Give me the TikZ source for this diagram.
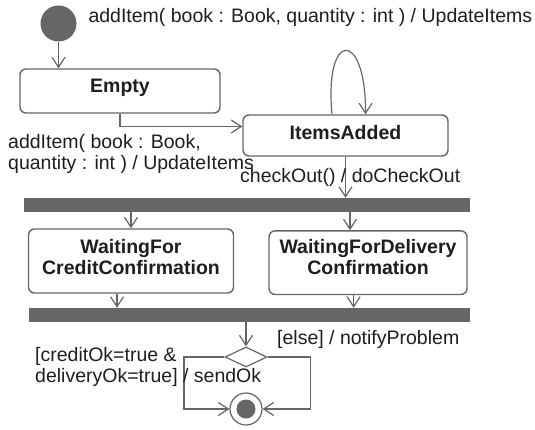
\documentclass[tikz,border=0pt]{standalone}
\usepackage{fontspec}
\setmainfont{Liberation Sans}
\usetikzlibrary{arrows.meta,shapes.geometric}
\definecolor{lc}{HTML}{666666}
\definecolor{tc}{HTML}{1E1E1E}
\begin{document}
\begin{tikzpicture}[x=1pt,y=-1pt,
  every node/.style={text=tc,font=\fontsize{19.5}{21.5}\selectfont},
  statebox/.style={draw=lc,line width=1.4pt,rounded corners=6pt,fill=white,inner sep=0pt,
     font=\fontsize{19.5}{21.5}\selectfont\bfseries,align=center},
  barbox/.style={fill=lc,draw=none,inner sep=0pt},
  conn/.style={draw=lc,line width=1.2pt,-{Straight Barb[length=10pt,width=13pt,line width=1.2pt]}},
  plain/.style={draw=lc,line width=1.2pt},
  lbl/.style={inner sep=0pt,align=left}]
\useasboundingbox (0,0) rectangle (535,430);
% states
\node[circle,fill=lc,minimum size=36pt,inner sep=0pt] (init) at (58.5,23.5) {};
\node[statebox,minimum width=200pt,minimum height=44pt,text depth=10pt] (empty) at (120,91) {Empty};
\node[statebox,minimum width=205pt,minimum height=41pt,text depth=6pt] (items) at (345.5,135.5) {ItemsAdded};
\node[barbox,minimum width=446pt,minimum height=14pt] (fork) at (247,205) {};
\node[statebox,minimum width=205pt,minimum height=64pt,text depth=8pt] (wl) at (131,261) {WaitingFor\\CreditConfirmation};
\node[statebox,minimum width=198pt,minimum height=63.5pt,text depth=12pt] (wr) at (368,262.7) {WaitingForDelivery\\Confirmation};
\node[barbox,minimum width=441.4pt,minimum height=14pt] (join) at (249.3,315) {};
\node[diamond,draw=lc,line width=1.2pt,fill=white,minimum width=42pt,minimum height=20pt,inner sep=0pt] (dia) at (246,357) {};
\node[circle,draw=lc,line width=1.2pt,fill=white,minimum size=32pt,inner sep=0pt] (final) at (246,409) {};
\node[circle,fill=lc,minimum size=19pt,inner sep=0pt] (finalIn) at (246,409) {};
% corner points
\coordinate (cl) at (184,357);
\coordinate (cr) at (310.7,357);
% connectors
\draw[conn] (init) -- (init |- empty.north);
\draw[conn] (empty.south) |- ([yshift=9pt]items.west);
\draw[conn] ([xshift=-13.5pt]items.north) .. controls (324,29.3) and (366,29.3) .. ([xshift=20pt]items.north);
\draw[conn] (items.south) -- (items.south |- fork.north);
\draw[conn] (wl.north |- fork.south) -- (wl.north);
\draw[conn] ([xshift=-18pt]wr.north |- fork.south) -- ([xshift=-18pt]wr.north);
\draw[conn] ([xshift=-14pt]wl.south) -- ([xshift=-14pt]wl.south |- join.north);
\draw[conn] ([xshift=-14.4pt]wr.south) -- ([xshift=-14.4pt]wr.south |- join.north);
\draw[conn] (dia.north |- join.south) -- (dia.north);
\draw[conn] (dia.west) -- (cl) |- (final.west);
\draw[conn] (dia.east) -- (cr) |- (final.east);
% labels
\node[lbl,anchor=base west] (ltop) at (88.3,23) {addItem( book : Book, quantity : int ) / UpdateItems};
\node[lbl,anchor=north west] (lleft) at (8,133.8) {addItem( book : Book,\\quantity : int ) / UpdateItems};
\node[lbl,anchor=base west] (lcheck) at (240,183) {checkOut() / doCheckOut};
\node[lbl,anchor=base west] (lelse) at (277,344) {[else] / notifyProblem};
\node[lbl,anchor=north west] (lcredit) at (35,346.8) {[creditOk=true \&\\deliveryOk=true] / sendOk};
\end{tikzpicture}
\end{document}
